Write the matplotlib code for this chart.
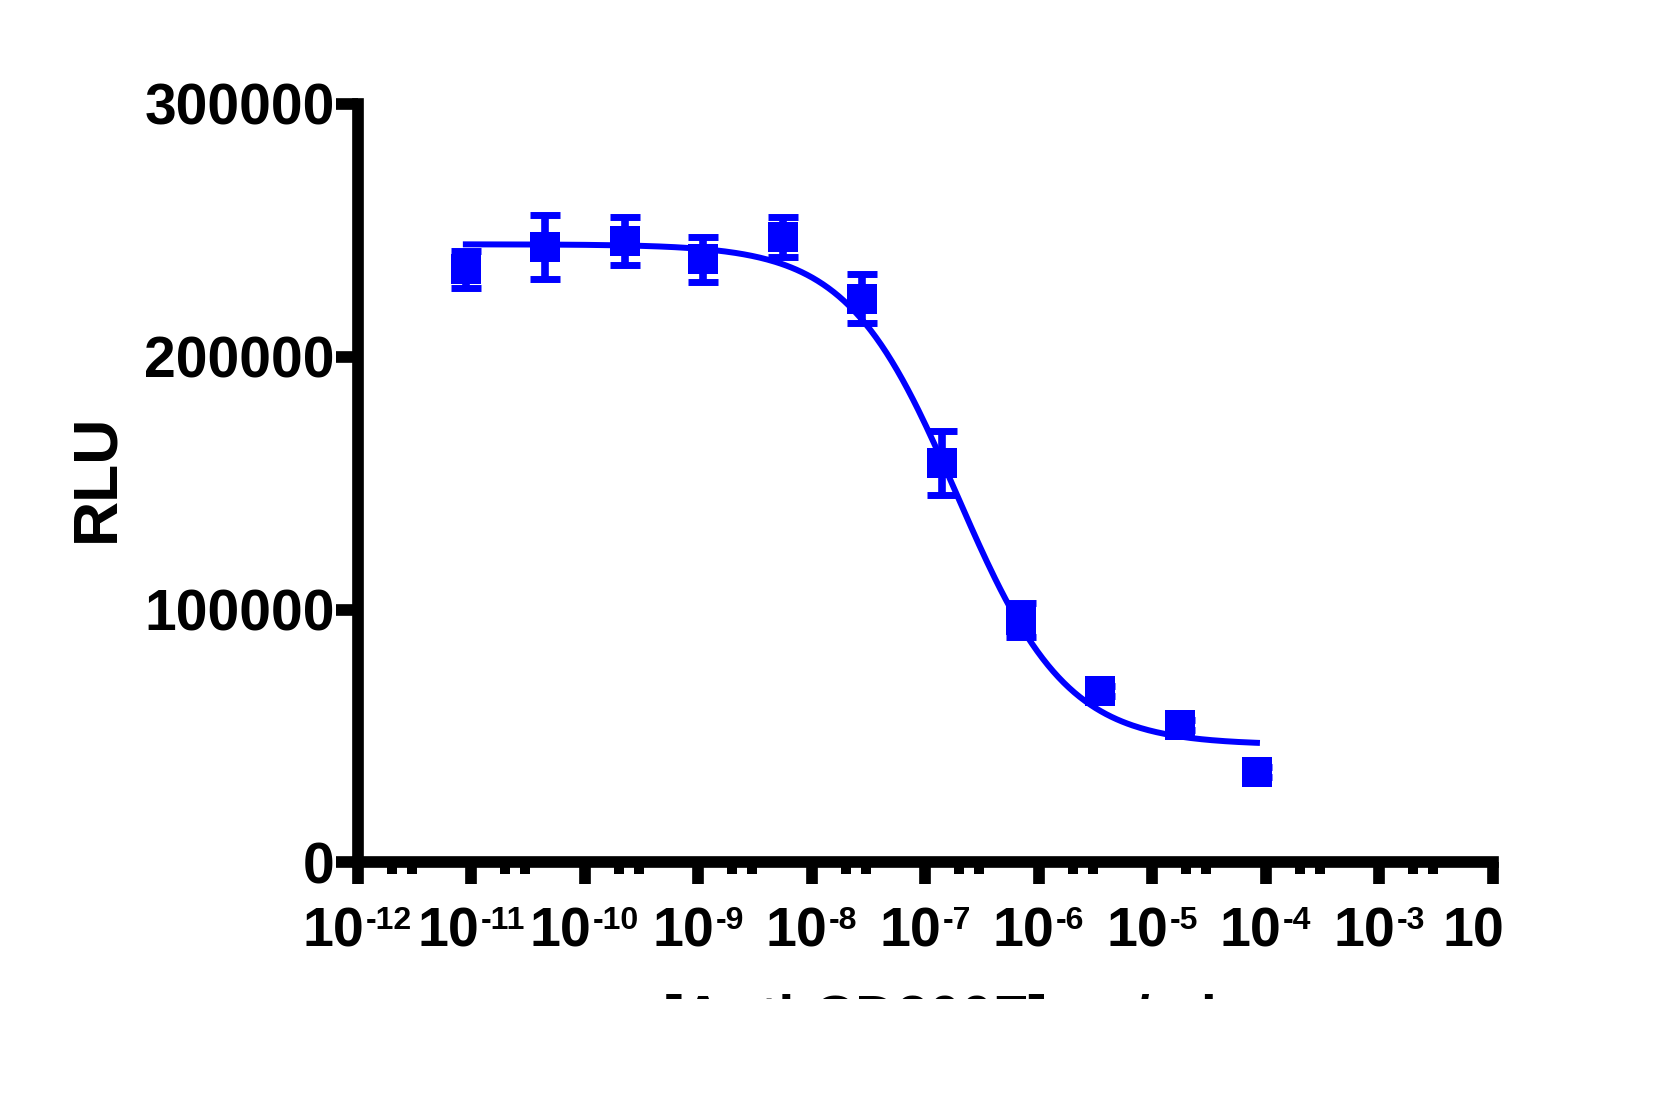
import matplotlib
matplotlib.use("Agg")
import matplotlib.pyplot as plt
import numpy as np
from matplotlib.ticker import LogLocator, NullFormatter
from matplotlib.patches import Rectangle

plt.rcParams['font.family'] = ['Liberation Sans', 'DejaVu Sans']
plt.rcParams['font.weight'] = 'bold'

# concentrations of the dilution series
conc = [9.0e-12, 4.5e-11, 2.25e-10, 1.1e-9, 5.6e-9, 2.8e-8, 1.4e-7, 7.0e-7, 3.5e-6, 1.75e-5, 8.4e-5]
# mean RLU and error (SEM) per point
rlu = [234600, 243300, 245800, 238500, 247300, 223000, 158000, 95900, 67800, 54300, 35900]
rlu_err = [7300, 12700, 9600, 8800, 7900, 9800, 12600, 6700, 2000, 2000, 2000]

# 4PL fit parameters
fit_top = 244500
fit_bottom = 46500
fit_logic50 = -6.72
fit_hill = 0.9

x_decades = [-12, -11, -10, -9, -8, -7, -6, -5, -4, -3, -2]
x_sup = ['-12', '-11', '-10', '-9', '-8', '-7', '-6', '-5', '-4', '-3', '']
y_ticks = [0, 100000, 200000, 300000]

blue = '#0000FF'

fig = plt.figure(figsize=(16.63, 11.06), dpi=100)
ax = fig.add_axes([0.2150, 0.2202, 0.6825, 0.6858])

# fitted curve
xs = np.logspace(np.log10(conc[0]), np.log10(conc[-1]), 300)
ys = fit_bottom + (fit_top - fit_bottom) / (1 + 10 ** ((np.log10(xs) - fit_logic50) * fit_hill))
ax.plot(xs, ys, color=blue, lw=4.3, zorder=2)

ax.errorbar(conc, rlu, yerr=rlu_err, fmt='none', ecolor=blue,
            elinewidth=5.5, capsize=11, capthick=5, zorder=3)
ax.plot(conc, rlu, 's', color=blue, ms=22, mew=0, zorder=4)

ax.set_xscale('log')
ax.set_xlim(1e-12, 1e-2)
ax.set_ylim(0, 300000)

for side in ['top', 'right']:
    ax.spines[side].set_visible(False)
for side in ['left', 'bottom']:
    ax.spines[side].set_linewidth(8.4)

ax.set_yticks(y_ticks)
ax.set_yticklabels([str(v) for v in y_ticks], fontsize=41, fontweight='bold')
ax.tick_params(axis='y', length=15.5, width=8.4, pad=1)

ax.set_xticks([10.0 ** d for d in x_decades])
ax.set_xticklabels([])
ax.xaxis.set_minor_locator(LogLocator(base=10, subs=(2, 3), numticks=30))
ax.xaxis.set_minor_formatter(NullFormatter())
ax.tick_params(axis='x', which='major', length=15.5, width=8.4)
ax.tick_params(axis='x', which='minor', length=8.5, width=7.2)

# x tick labels: "10" with small raised exponent, group centred on tick
fig.canvas.draw()
renderer = fig.canvas.get_renderer()
to_pt = 72.0 / fig.dpi
for d, sup in zip(x_decades, x_sup):
    base_t = ax.annotate('10', xy=(10.0 ** d, 0), xycoords=('data', 'axes fraction'),
                         xytext=(0, -32), textcoords='offset points',
                         ha='left', va='top', fontsize=40, fontweight='bold')
    w1 = base_t.get_window_extent(renderer).width * to_pt
    if sup:
        sup_t = ax.annotate(sup, xy=(10.0 ** d, 0), xycoords=('data', 'axes fraction'),
                            xytext=(0, -32), textcoords='offset points',
                            ha='left', va='top', fontsize=23, fontweight='bold')
        w2 = sup_t.get_window_extent(renderer).width * to_pt
        total = w1 + 1 + w2
        base_t.set_position((-total / 2, -32))
        sup_t.set_position((-total / 2 + w1 + 1, -31))
    else:
        base_t.set_position((-w1 / 2 - 14, -32))

fig.text(0.058, 0.5680, 'RLU', rotation=90, ha='center', va='center',
         fontsize=45, fontweight='bold')

fig.text(0.565, 0.0630, '[Anti-CD300F] μg/ml', ha='center', va='baseline',
         fontsize=41.5, fontweight='bold')
# the source image is cropped just below the top of the axis title
fig.patches.append(Rectangle((0, 0), 1, 0.0967, transform=fig.transFigure,
                             facecolor='white', edgecolor='none', zorder=10))

fig.savefig('out.png', dpi=100)
